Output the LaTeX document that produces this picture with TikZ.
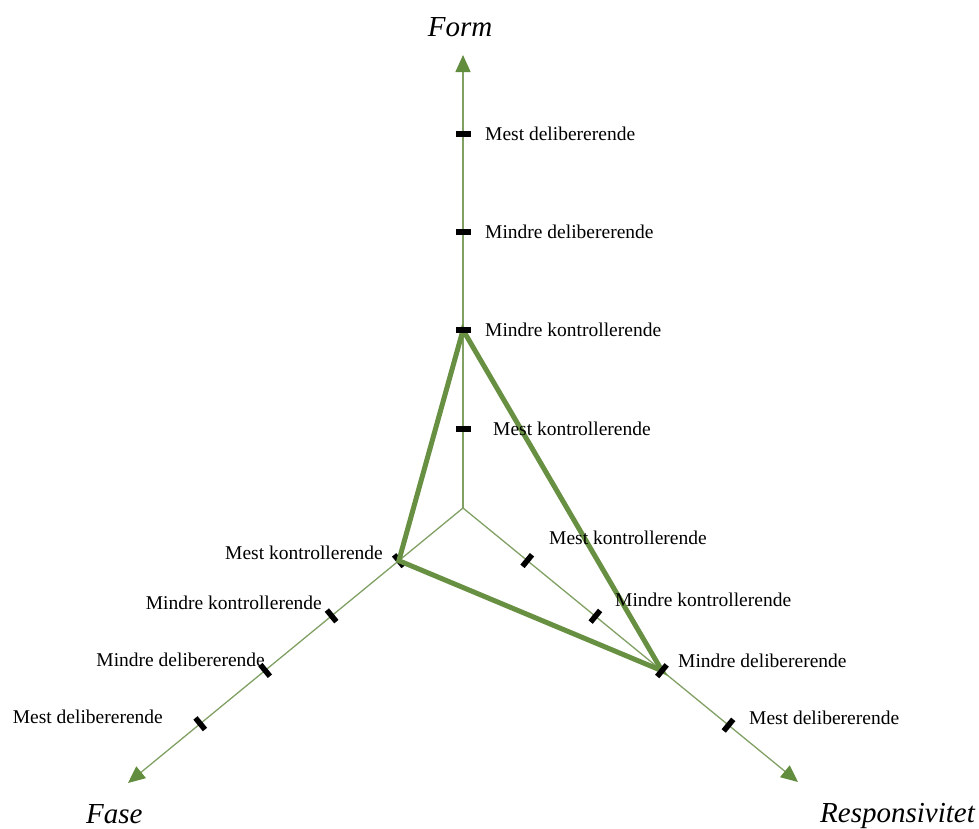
\documentclass[tikz,border=0pt]{standalone}
\usepackage{fontspec}
\setmainfont{Liberation Serif}
\usetikzlibrary{arrows.meta,calc}
\definecolor{axisgreen}{RGB}{128,160,100}
\definecolor{profilegreen}{RGB}{104,144,66}
\definecolor{tipgreen}{RGB}{98,140,62}
\begin{document}
\begin{tikzpicture}[x=1pt,y=-1pt,
  axis/.style={draw=axisgreen,line width=1.3pt,-{Triangle[length=17pt,width=15pt,color=tipgreen]}},
  tickmark/.style={fill=black,inner sep=0,minimum width=5.5pt,minimum height=15pt},
  lbl/.style={inner sep=0,font=\fontsize{19.5}{22}\selectfont},
  axistitle/.style={inner sep=0,font=\fontsize{29}{34}\selectfont\itshape},
  profile/.style={draw=profilegreen,line width=5pt,line join=miter}]
\useasboundingbox (0,0) rectangle (979,828);

% origin and the three axis ends
\coordinate (C) at (463,508);
\coordinate (Ftip) at (463,55);
\coordinate (Ltip) at (128,783);
\coordinate (Rtip) at (798,782);

% axes
\draw[axis] (C) -- (Ftip);
\draw[axis] (C) -- (Ltip);
\draw[axis] (C) -- (Rtip);

% positions of the scale marks
\coordinate (f1) at ($(C)!79pt!(Ftip)$);
\coordinate (f2) at ($(C)!178pt!(Ftip)$);
\coordinate (f3) at ($(C)!276pt!(Ftip)$);
\coordinate (f4) at ($(C)!374pt!(Ftip)$);
\coordinate (l1) at ($(C)!83pt!(Ltip)$);
\coordinate (l2) at ($(C)!170pt!(Ltip)$);
\coordinate (l3) at ($(C)!256pt!(Ltip)$);
\coordinate (l4) at ($(C)!340pt!(Ltip)$);
\coordinate (r1) at ($(C)!83pt!(Rtip)$);
\coordinate (r2) at ($(C)!171pt!(Rtip)$);
\coordinate (r3) at ($(C)!257pt!(Rtip)$);
\coordinate (r4) at ($(C)!343pt!(Rtip)$);

% the mark under the profile corner on the Fase axis
\node[tickmark,rotate=39.4] (l1m) at (l1) {};

% profile
\draw[profile] (f2) -- (l1) -- (r3) -- cycle;

% remaining scale marks
\node[tickmark,rotate=90] (f1m) at (f1) {};
\node[tickmark,rotate=90] (f2m) at (f2) {};
\node[tickmark,rotate=90] (f3m) at (f3) {};
\node[tickmark,rotate=90] (f4m) at (f4) {};
\node[tickmark,rotate=39.4] (l2m) at (l2) {};
\node[tickmark,rotate=39.4] (l3m) at (l3) {};
\node[tickmark,rotate=39.4] (l4m) at (l4) {};
\node[tickmark,rotate=-39.3] (r1m) at (r1) {};
\node[tickmark,rotate=-39.3] (r2m) at (r2) {};
\node[tickmark,rotate=-39.3] (r3m) at (r3) {};
\node[tickmark,rotate=-39.3] (r4m) at (r4) {};

% scale labels: Form
\node[lbl,anchor=west] (f4l) at (485,134) {Mest delibererende};
\node[lbl,anchor=west] (f3l) at (485,232) {Mindre delibererende};
\node[lbl,anchor=west] (f2l) at (485,330) {Mindre kontrollerende};
\node[lbl,anchor=west] (f1l) at (493,429) {Mest kontrollerende};

% scale labels: Fase
\node[lbl,anchor=east] (l1l) at (383,553) {Mest kontrollerende};
\node[lbl,anchor=east] (l2l) at (322,603) {Mindre kontrollerende};
\node[lbl,anchor=east] (l3l) at (265,660) {Mindre delibererende};
\node[lbl,anchor=east] (l4l) at (163,717) {Mest delibererende};

% scale labels: Responsivitet
\node[lbl,anchor=west] (r1l) at (549,538) {Mest kontrollerende};
\node[lbl,anchor=west] (r2l) at (615,600) {Mindre kontrollerende};
\node[lbl,anchor=west] (r3l) at (678,661) {Mindre delibererende};
\node[lbl,anchor=west] (r4l) at (749,718) {Mest delibererende};

% axis titles
\node[axistitle,anchor=base] (form) at (460,36) {Form};
\node[axistitle,anchor=base west] (fase) at (86,823) {Fase};
\node[axistitle,anchor=base west] (resp) at (820,822) {Responsivitet};
\end{tikzpicture}
\end{document}
